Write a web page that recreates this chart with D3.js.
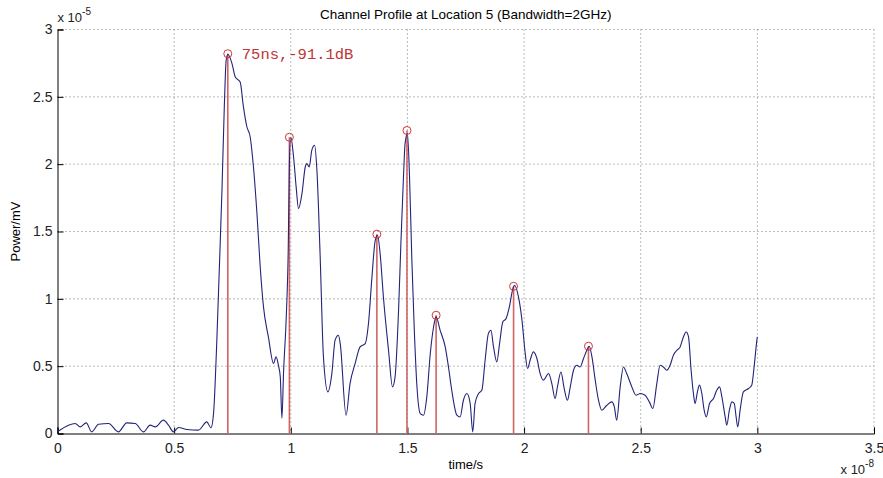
<!DOCTYPE html>
<html>
<head>
<meta charset="utf-8">
<script src="https://cdn.jsdelivr.net/npm/d3@7"></script>
<style>
body { margin: 0; background: #fff; }
text { font-family: "Liberation Sans", Arial, sans-serif; }
</style>
</head>
<body>
<div id="chart"></div>
<script>
"use strict";

// time in units of 1e-8 s, power in units of 1e-5 mV
var time = [0.00, 0.047, 0.076, 0.097, 0.123, 0.147, 0.176, 0.219, 0.261, 0.297, 0.333, 0.369, 0.397, 0.419, 0.454, 0.476, 0.497,
	0.519, 0.555, 0.604, 0.640, 0.658, 0.669, 0.683, 0.693, 0.705, 0.715, 0.723, 0.730, 0.748, 0.762, 0.783, 0.797, 0.812, 0.826,
	0.840, 0.855, 0.869, 0.883, 0.904, 0.926, 0.937, 0.947, 0.955, 0.962, 0.969, 0.980, 0.989, 0.994, 1.000, 1.012, 1.023, 1.033,
	1.048, 1.062, 1.069, 1.079, 1.090, 1.102, 1.112, 1.126, 1.140, 1.159, 1.176, 1.190, 1.204, 1.212, 1.237, 1.254, 1.276, 1.297,
	1.319, 1.333, 1.348, 1.362, 1.372, 1.383, 1.397, 1.419, 1.436, 1.447, 1.462, 1.472, 1.483, 1.490, 1.500, 1.509, 1.519, 1.529,
	1.540, 1.555, 1.569, 1.583, 1.598, 1.612, 1.623, 1.640, 1.662, 1.676, 1.690, 1.712, 1.726, 1.740, 1.755, 1.769, 1.780, 1.790,
	1.805, 1.819, 1.833, 1.847, 1.858, 1.869, 1.883, 1.895, 1.909, 1.923, 1.937, 1.952, 1.959, 1.976, 1.991, 2.005, 2.015, 2.026,
	2.040, 2.055, 2.069, 2.083, 2.105, 2.119, 2.133, 2.143, 2.158, 2.172, 2.186, 2.198, 2.212, 2.226, 2.240, 2.255, 2.269, 2.279,
	2.291, 2.305, 2.319, 2.333, 2.355, 2.376, 2.387, 2.397, 2.412, 2.426, 2.440, 2.462, 2.480, 2.498, 2.519, 2.537, 2.552, 2.569,
	2.583, 2.597, 2.612, 2.626, 2.640, 2.655, 2.669, 2.683, 2.695, 2.705, 2.716, 2.726, 2.733, 2.743, 2.752, 2.762, 2.772, 2.781,
	2.795, 2.812, 2.826, 2.838, 2.848, 2.862, 2.869, 2.880, 2.891, 2.901, 2.909, 2.916, 2.926, 2.940, 2.962, 2.976, 2.986, 2.998, 3.000];

var power = [0.012, 0.062, 0.074, 0.049, 0.079, 0.012, 0.069, 0.074, 0.012, 0.079, 0.074, 0.012, 0.062, 0.049, 0.099, 0.062, 0.012,
	0.045, 0.030, 0.025, 0.086, 0.042, 0.151, 0.693, 1.190, 1.806, 2.425, 2.771, 2.816, 2.747, 2.647, 2.610, 2.425, 2.276, 2.202,
	1.979, 1.633, 1.237, 0.940, 0.717, 0.520, 0.569, 0.507, 0.420, 0.114, 0.455, 0.841, 1.361, 2.004, 2.200, 2.053, 1.831, 1.670,
	1.782, 1.979, 2.004, 1.979, 2.103, 2.140, 1.955, 1.311, 0.569, 0.309, 0.445, 0.693, 0.730, 0.668, 0.136, 0.371, 0.520, 0.643,
	0.668, 0.817, 1.163, 1.435, 1.472, 1.336, 1.014, 0.618, 0.346, 0.420, 0.915, 1.411, 1.905, 2.153, 2.227, 1.905, 1.287, 0.791,
	0.371, 0.148, 0.136, 0.272, 0.594, 0.791, 0.866, 0.767, 0.643, 0.494, 0.321, 0.136, 0.123, 0.247, 0.297, 0.223, 0.012, 0.223,
	0.297, 0.321, 0.544, 0.742, 0.767, 0.643, 0.532, 0.668, 0.829, 0.854, 0.940, 1.076, 1.101, 1.014, 0.841, 0.594, 0.483, 0.544,
	0.606, 0.557, 0.445, 0.396, 0.445, 0.371, 0.260, 0.346, 0.457, 0.334, 0.247, 0.346, 0.470, 0.507, 0.494, 0.557, 0.618, 0.648,
	0.569, 0.396, 0.247, 0.173, 0.210, 0.235, 0.197, 0.099, 0.346, 0.494, 0.445, 0.346, 0.284, 0.297, 0.284, 0.235, 0.186, 0.371,
	0.507, 0.494, 0.470, 0.507, 0.581, 0.618, 0.643, 0.717, 0.754, 0.717, 0.470, 0.297, 0.223, 0.309, 0.359, 0.297, 0.173, 0.123,
	0.223, 0.260, 0.321, 0.346, 0.272, 0.123, 0.062, 0.173, 0.235, 0.223, 0.123, 0.049, 0.173, 0.309, 0.334, 0.359, 0.494, 0.693, 0.717];

// detected multipath peaks
var peakTime = [0.730, 0.994, 1.369, 1.498, 1.623, 1.955, 2.276];
var peakPower = [2.82, 2.20, 1.48, 2.25, 0.878, 1.093, 0.648];

var xTicks = [0, 0.5, 1, 1.5, 2, 2.5, 3, 3.5];
var yTicks = [0, 0.5, 1, 1.5, 2, 2.5, 3];

var titleText = "Channel Profile at Location 5 (Bandwidth=2GHz)";
var peakLabel = "75ns,-91.1dB";

//
// Setup Variables
//
var canvasWidth = 883;
var canvasHeight = 478;
var margin = { top: 29.5, right: 9, bottom: 44.5, left: 57.5 };
var width = canvasWidth - margin.left - margin.right;
var height = canvasHeight - margin.top - margin.bottom;

var x = d3.scaleLinear().domain([0, 3.5]).range([0, width]);
var y = d3.scaleLinear().domain([0, 3]).range([height, 0]);

var series = time.map(function(t, i) { return { t: t, v: power[i] }; });
var peaks = peakTime.map(function(t, i) { return { t: t, v: peakPower[i] }; });

//
// Draw Canvas
//
var svg = d3.select("#chart")
	.append("svg")
		.attr("width", canvasWidth)
		.attr("height", canvasHeight)
	.append("g")
		.attr("transform", "translate(" + margin.left + "," + margin.top + ")");

//
// Grid
//
svg.selectAll(".xgrid")
	.data(xTicks.slice(1))
	.enter().append("line")
		.attr("x1", function(d) { return x(d); })
		.attr("x2", function(d) { return x(d); })
		.attr("y1", 0)
		.attr("y2", height)
		.attr("stroke", "#777")
		.attr("stroke-dasharray", "1,3");

svg.selectAll(".ygrid")
	.data(yTicks.slice(1))
	.enter().append("line")
		.attr("x1", 0)
		.attr("x2", width)
		.attr("y1", function(d) { return y(d); })
		.attr("y2", function(d) { return y(d); })
		.attr("stroke", "#777")
		.attr("stroke-dasharray", "1,3");

//
// Axes
//
var xAxis = svg.append("g")
	.attr("transform", "translate(0," + height + ")")
	.call(d3.axisBottom(x).tickValues(xTicks).tickSize(-6).tickPadding(10)
		.tickFormat(function(d) { return d; }));

var yAxis = svg.append("g")
	.call(d3.axisLeft(y).tickValues(yTicks).tickSize(-6).tickPadding(5)
		.tickFormat(function(d) { return d; }));

[xAxis, yAxis].forEach(function(a) {
	a.select(".domain").attr("stroke", "#000");
	a.selectAll(".tick line").attr("stroke", "#000");
	a.selectAll(".tick text")
		.attr("fill", "#222")
		.style("font-size", "14px")
		.style("font-family", "Liberation Sans, Arial, sans-serif");
});

//
// Stems
//
svg.selectAll(".stem")
	.data(peaks)
	.enter().append("line")
		.attr("x1", function(d) { return x(d.t); })
		.attr("x2", function(d) { return x(d.t); })
		.attr("y1", function(d) { return y(d.v); })
		.attr("y2", height)
		.attr("stroke", "#d26464")
		.attr("stroke-width", 1.6);

//
// Profile line
//
var line = d3.line()
	.x(function(d) { return x(d.t); })
	.y(function(d) { return y(d.v); })
	.curve(d3.curveMonotoneX);

svg.append("path")
	.datum(series)
	.attr("fill", "none")
	.attr("stroke", "#23237a")
	.attr("stroke-width", 1.1)
	.attr("d", line);

//
// Peak markers
//
svg.selectAll(".peak")
	.data(peaks)
	.enter().append("circle")
		.attr("cx", function(d) { return x(d.t); })
		.attr("cy", function(d) { return y(d.v); })
		.attr("r", 4)
		.attr("fill", "none")
		.attr("stroke", "#d03838")
		.attr("stroke-width", 1);

svg.append("text")
	.attr("x", x(peaks[0].t) + 14)
	.attr("y", y(peaks[0].v) + 5)
	.attr("fill", "#c03434")
	.style("font-family", "Liberation Mono, Courier New, monospace")
	.style("font-size", "15.5px")
	.text(peakLabel);

//
// Labels
//
svg.append("text")
	.attr("x", width / 2)
	.attr("y", -11)
	.attr("text-anchor", "middle")
	.style("font-size", "13.5px")
	.text(titleText);

svg.append("text")
	.attr("x", width / 2)
	.attr("y", height + 35)
	.attr("text-anchor", "middle")
	.style("font-size", "13px")
	.text("time/s");

svg.append("text")
	.attr("transform", "translate(" + (-38) + "," + (height / 2) + ") rotate(-90)")
	.attr("text-anchor", "middle")
	.style("font-size", "13px")
	.text("Power/mV");

var yExp = svg.append("text")
	.attr("x", 0)
	.attr("y", -8)
	.attr("fill", "#222")
	.style("font-size", "13px");
yExp.append("tspan").text("x 10");
yExp.append("tspan").attr("dy", -7).style("font-size", "10px").text("-5");

var xExp = svg.append("text")
	.attr("x", width)
	.attr("y", height + 40)
	.attr("text-anchor", "end")
	.attr("fill", "#222")
	.style("font-size", "13px");
xExp.append("tspan").text("x 10");
xExp.append("tspan").attr("dy", -7).style("font-size", "10px").text("-8");
</script>
</body>
</html>
